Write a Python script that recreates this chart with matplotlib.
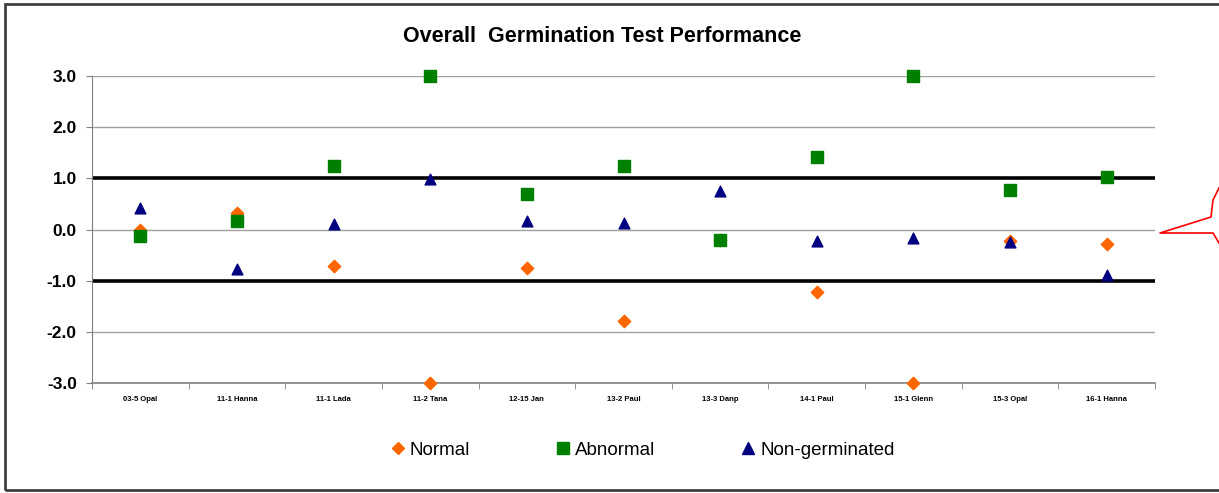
import matplotlib
matplotlib.use("Agg")
import matplotlib.pyplot as plt
from matplotlib.lines import Line2D
from matplotlib.patches import Rectangle

plt.rcParams["font.family"] = ["Liberation Sans", "DejaVu Sans"]

SAMPLES = [
    "03-5 Opal",
    "11-1 Hanna",
    "11-1 Lada",
    "11-2 Tana",
    "12-15 Jan",
    "13-2 Paul",
    "13-3 Danp",
    "14-1 Paul",
    "15-1 Glenn",
    "15-3 Opal",
    "16-1 Hanna",
]
NORMAL = [0.0, 0.32, -0.72, -3.0, -0.75, -1.78, -0.2, -1.23, -3.0, -0.22, -0.28]
ABNORMAL = [-0.13, 0.17, 1.25, 3.0, 0.7, 1.25, -0.2, 1.42, 3.0, 0.77, 1.02]
NON_GERMINATED = [0.42, -0.78, 0.1, 0.98, 0.17, 0.12, 0.75, -0.22, -0.17, -0.25, -0.88]
Y_TICKS = [-3.0, -2.0, -1.0, 0.0, 1.0, 2.0, 3.0]

ORANGE = "#ff6600"
GREEN = "#008000"
NAVY = "#000080"


def draw() -> None:
    fig = plt.figure(figsize=(12.19, 4.93), dpi=100)
    ax = fig.add_axes([0.0755, 0.2231, 0.872, 0.6227])

    x = list(range(len(SAMPLES)))

    # grid lines, +-1 band in heavy black
    for y in Y_TICKS:
        if abs(y) == 1.0:
            ax.axhline(y, color="black", lw=2.6, zorder=1)
        elif y > -3.0:
            ax.axhline(y, color="#a0a0a0", lw=1.0, zorder=1)

    ax.scatter(x, NORMAL, marker="D", s=40, color=ORANGE, zorder=3,
               label="Normal", clip_on=False)
    ax.scatter(x, ABNORMAL, marker="s", s=80, color=GREEN, zorder=4,
               label="Abnormal", clip_on=False)
    ax.scatter(x, NON_GERMINATED, marker="^", s=60, color=NAVY, zorder=5,
               label="Non-germinated", clip_on=False)

    ax.set_xlim(-0.5, len(SAMPLES) - 0.5)
    ax.set_ylim(-3.0, 3.0)
    ax.set_yticks(Y_TICKS)
    ax.set_yticklabels([f"{v:.1f}" for v in Y_TICKS], fontsize=12.5, fontweight="bold")
    ax.set_xticks(x)
    ax.set_xticklabels(SAMPLES, fontsize=5.5, fontweight="bold")
    ax.set_xticks([i - 0.5 for i in range(len(SAMPLES) + 1)], minor=True)
    ax.tick_params(axis="x", which="major", length=0, pad=9)
    ax.tick_params(axis="x", which="minor", length=4, color="#808080")
    ax.tick_params(axis="y", length=4, color="#808080", pad=7)

    for side in ["top", "right"]:
        ax.spines[side].set_visible(False)
    ax.spines["left"].set_color("#808080")
    ax.spines["bottom"].set_color("#808080")
    ax.spines["bottom"].set_linewidth(1.2)

    fig.text(0.494, 0.925, "Overall  Germination Test Performance",
             ha="center", va="center", fontsize=15.5, fontweight="bold")

    handles = [
        Line2D([], [], ls="none", marker="D", ms=6.5, color=ORANGE),
        Line2D([], [], ls="none", marker="s", ms=9, color=GREEN),
        Line2D([], [], ls="none", marker="^", ms=8, color=NAVY),
    ]
    fig.legend(handles, ["Normal", "Abnormal", "Non-germinated"], ncol=3,
               loc="center", bbox_to_anchor=(0.526, 0.087), frameon=False,
               fontsize=13.5, columnspacing=4.4, handletextpad=0.1, handlelength=1.1)

    # outer chart frame (right edge runs off the picture)
    fig.patches.append(Rectangle((0.004, 0.006), 1.1, 0.986, transform=fig.transFigure,
                                 fill=False, ec="#404040", lw=2.0))

    # red callout tail on the right edge
    W, H = 1219.0, 493.0
    px = [1219, 1213, 1211, 1160, 1213, 1219]
    py = [188, 200, 217, 233, 233, 243]
    fig.add_artist(Line2D([p / W for p in px], [1 - p / H for p in py],
                          transform=fig.transFigure, color="red", lw=1.2))

    fig.savefig("out.png", dpi=100)


def main() -> None:
    draw()


main()
